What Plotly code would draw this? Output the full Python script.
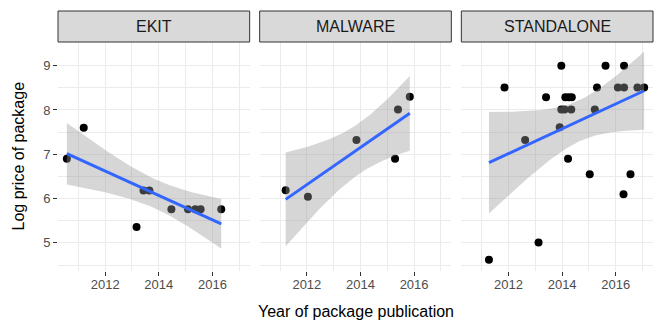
import numpy as np
import plotly.graph_objects as go
from plotly.subplots import make_subplots

panels = ["EKIT", "MALWARE", "STANDALONE"]

# year of publication / log price
ekit_year = [2010.57, 2011.20, 2013.17, 2013.43, 2013.65, 2014.47, 2015.09, 2015.36, 2015.56, 2016.33]
ekit_price = [6.90, 7.60, 5.36, 6.18, 6.18, 5.76, 5.76, 5.76, 5.76, 5.76]

malware_year = [2011.21, 2012.04, 2013.85, 2015.29, 2015.40, 2015.84]
malware_price = [6.19, 6.04, 7.32, 6.90, 8.01, 8.30]

standalone_year = [2011.27, 2011.85, 2012.62, 2013.12, 2013.40, 2013.91, 2013.97, 2013.97,
                   2014.09, 2014.34, 2014.12, 2014.25, 2014.36, 2014.22, 2015.03, 2015.22,
                   2015.30, 2015.62, 2016.08, 2016.31, 2016.31, 2016.29, 2016.55, 2016.81, 2017.06]
standalone_price = [4.62, 8.51, 7.32, 5.01, 8.29, 7.61, 9.00, 8.01,
                    8.01, 8.01, 8.29, 8.29, 8.29, 6.90, 6.55, 8.01,
                    8.51, 9.00, 8.51, 8.51, 9.00, 6.10, 6.55, 8.51, 8.51]

x_ticks = [2012, 2014, 2016]
y_ticks = [5, 6, 7, 8, 9]

# 97.5% t quantiles for the residual degrees of freedom
T975 = {4: 2.776, 8: 2.306, 23: 2.069}


# linear fit with 95% confidence band, like geom_smooth(method="lm")
def smooth(x, y, n=80):
    x = np.asarray(x)
    y = np.asarray(y)
    b, a = np.polyfit(x, y, 1)
    xs = np.linspace(x.min(), x.max(), n)
    fit = a + b * xs
    df = len(x) - 2
    s = np.sqrt(((y - (a + b * x)) ** 2).sum() / df)
    se = s * np.sqrt(1 / len(x) + (xs - x.mean()) ** 2 / ((x - x.mean()) ** 2).sum())
    return xs, fit, fit - T975[df] * se, fit + T975[df] * se


data = [(ekit_year, ekit_price), (malware_year, malware_price), (standalone_year, standalone_price)]

fig = make_subplots(rows=1, cols=3, shared_yaxes=True)

w = 191.67 / 595
gap = 10 / 595
domains = [[0, w], [w + gap, 2 * w + gap], [2 * w + 2 * gap, 1]]
strip_top = 1 + 31 / 229

for i, (xv, yv) in enumerate(data):
    col = i + 1
    fig.add_trace(go.Scatter(x=xv, y=yv, mode="markers",
                             marker=dict(color="black", size=8),
                             showlegend=False, hoverinfo="skip"), row=1, col=col)
    xs, fit, lo, hi = smooth(xv, yv)
    fig.add_trace(go.Scatter(x=np.concatenate([xs, xs[::-1]]),
                             y=np.concatenate([lo, hi[::-1]]),
                             fill="toself", fillcolor="rgba(153,153,153,0.4)",
                             line=dict(width=0), mode="lines",
                             showlegend=False, hoverinfo="skip"), row=1, col=col)
    fig.add_trace(go.Scatter(x=xs, y=fit, mode="lines",
                             line=dict(color="#3366FF", width=3),
                             showlegend=False, hoverinfo="skip"), row=1, col=col)

    # facet strip
    fig.add_shape(type="rect", xref="paper", yref="paper",
                  x0=domains[i][0], x1=domains[i][1], y0=1.0, y1=strip_top,
                  fillcolor="#D9D9D9", line=dict(color="#333333", width=1))
    fig.add_annotation(text=panels[i], xref="paper", yref="paper",
                       x=(domains[i][0] + domains[i][1]) / 2, y=(1 + strip_top) / 2,
                       showarrow=False, font=dict(size=16, color="#1A1A1A"),
                       xanchor="center", yanchor="middle")

    fig.update_xaxes(domain=domains[i], range=[2010.24, 2017.39],
                     tickvals=x_ticks, ticks="outside", ticklen=4, tickwidth=1,
                     tickcolor="#333333", tickfont=dict(size=13, color="#4D4D4D"),
                     ticklabelstandoff=-3,
                     showgrid=True, gridcolor="#EBEBEB", gridwidth=1.2,
                     minor=dict(tickvals=[2011, 2013, 2015, 2017], showgrid=True,
                                gridcolor="#EBEBEB", gridwidth=0.6, ticks=""),
                     zeroline=False, showline=False, row=1, col=col)
    fig.update_yaxes(range=[4.365, 9.535], tickvals=y_ticks,
                     ticks="outside" if i == 0 else "", ticklen=4, tickwidth=1,
                     tickcolor="#333333", tickfont=dict(size=13, color="#4D4D4D"),
                     showgrid=True, gridcolor="#EBEBEB", gridwidth=1.2,
                     minor=dict(tickvals=[4.5, 5.5, 6.5, 7.5, 8.5], showgrid=True,
                                gridcolor="#EBEBEB", gridwidth=0.6, ticks=""),
                     zeroline=False, showline=False, row=1, col=col)

fig.add_annotation(text="Year of package publication", xref="paper", yref="paper",
                   x=0.5, y=-40 / 229, showarrow=False, xanchor="center", yanchor="middle",
                   font=dict(size=16, color="black"))
fig.add_annotation(text="Log price of package", xref="paper", yref="paper",
                   x=-40 / 595, y=0.5, showarrow=False, textangle=-90,
                   xanchor="center", yanchor="middle",
                   font=dict(size=16, color="black"))

fig.update_layout(width=664, height=332,
                  margin=dict(l=58, r=11, t=42, b=61),
                  plot_bgcolor="white", paper_bgcolor="white",
                  font=dict(family="Liberation Sans, Arial, sans-serif"))

# drop the default page margin so the figure sits at the window's corner
fig.write_html("out.html", config={"displayModeBar": False},
               post_script="document.body.style.margin='0';")
